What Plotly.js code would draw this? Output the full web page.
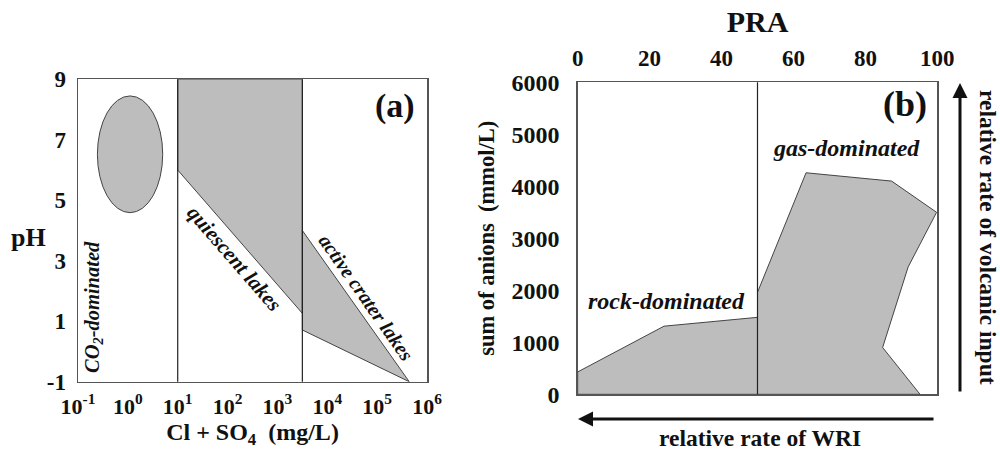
<!DOCTYPE html>
<html>
<head>
<meta charset="utf-8">
<script src="https://cdn.plot.ly/plotly-3.0.1.min.js"></script>
<style>html,body{margin:0;padding:0;background:#fff;}#chart{width:1000px;height:452px;}</style>
</head>
<body>
<div id="chart"></div>
<script>
// ---------- Panel (a) data ----------
const aTickVals = [0.1, 1, 10, 100, 1000, 10000, 100000, 1000000];
const aTickText = ['10<sup>-1</sup>', '10<sup>0</sup>', '10<sup>1</sup>', '10<sup>2</sup>', '10<sup>3</sup>', '10<sup>4</sup>', '10<sup>5</sup>', '10<sup>6</sup>'];
const pHTicks = [-1, 1, 3, 5, 7, 9];
const pHTickText = ['-1', '1', '3', '5', '7', '9'];
const co2EllipseX = [0.245, 5.0];
const co2EllipseY = [4.59, 8.45];
const quiescentX = [10, 3162, 3162, 10, 10];
const quiescentY = [9, 9, 1.26, 6.0, 9];
const activeX = [3162, 440000, 3162, 3162];
const activeY = [4.0, -1, 0.71, 4.0];
const dividersA = [10, 3162];

// ---------- Panel (b) data ----------
const praTicks = [0, 20, 40, 60, 80, 100];
const anionTicks = [0, 1000, 2000, 3000, 4000, 5000, 6000];
const rockX = [0, 0, 24, 50, 50, 0];
const rockY = [0, 430, 1310, 1480, 0, 0];
const gasX = [50, 50, 63.5, 87.3, 99.8, 91.9, 84.8, 95.2, 50];
const gasY = [0, 1960, 4260, 4100, 3500, 2450, 900, 0, 0];
const dividersB = [50];

const FILL = '#bdbdbd';
const EDGE = '#444444';
const AXIS = '#555555';
const FONT = 'Liberation Serif, Times New Roman, serif';

const traces = [
  {x: quiescentX, y: quiescentY, xaxis: 'x', yaxis: 'y', mode: 'lines', fill: 'toself',
   fillcolor: FILL, line: {color: EDGE, width: 1}, hoverinfo: 'skip', showlegend: false},
  {x: activeX, y: activeY, xaxis: 'x', yaxis: 'y', mode: 'lines', fill: 'toself',
   fillcolor: FILL, line: {color: EDGE, width: 1}, hoverinfo: 'skip', showlegend: false},
  {x: rockX, y: rockY, xaxis: 'x2', yaxis: 'y2', mode: 'lines', fill: 'toself',
   fillcolor: FILL, line: {color: EDGE, width: 1}, hoverinfo: 'skip', showlegend: false},
  {x: gasX, y: gasY, xaxis: 'x2', yaxis: 'y2', mode: 'lines', fill: 'toself',
   fillcolor: FILL, line: {color: EDGE, width: 1}, hoverinfo: 'skip', showlegend: false}
];

const shapes = [];
shapes.push({type: 'circle', xref: 'x', yref: 'y', x0: co2EllipseX[0], x1: co2EllipseX[1],
  y0: co2EllipseY[0], y1: co2EllipseY[1], fillcolor: FILL, line: {color: EDGE, width: 1}});
dividersA.forEach(v => shapes.push({type: 'line', xref: 'x', yref: 'y domain', x0: v, x1: v, y0: 0, y1: 1,
  line: {color: '#222', width: 1.2}, layer: 'above'}));
dividersB.forEach(v => shapes.push({type: 'line', xref: 'x2', yref: 'y2 domain', x0: v, x1: v, y0: 0, y1: 1,
  line: {color: '#222', width: 1.2}, layer: 'above'}));

const axisCommon = {showgrid: false, zeroline: false, showline: true, mirror: true,
  linecolor: AXIS, linewidth: 1.5, ticks: '', fixedrange: true};

const bold = (size) => ({family: FONT, size: size, color: '#111', weight: 700});
const boldItal = (size) => ({family: FONT, size: size, color: '#111', weight: 700, style: 'italic'});

function note(px, py, text, font, angle) {
  return {xref: 'paper', yref: 'paper', x: px / 1000, y: 1 - py / 452, text: text, showarrow: false,
    xanchor: 'center', yanchor: 'middle', textangle: angle || 0, font: font};
}

const annotations = [
  note(28, 237, 'pH', bold(26)),
  note(395, 106, '(a)', bold(34)),
  note(905, 104, '(b)', bold(36)),
  note(93, 307, 'CO<sub>2</sub>-dominated', boldItal(20.5), -90),
  note(234, 258, 'quiescent lakes', boldItal(21), 49),
  note(366, 297, 'active crater lakes', boldItal(20), 55),
  note(666, 301, 'rock-dominated', boldItal(24)),
  note(846, 148, 'gas-dominated', boldItal(24)),
  note(760, 438, 'relative rate of WRI', bold(23.5)),
  note(988, 237, 'relative rate of volcanic input', bold(23.5), 90),
  // arrows
  {xref: 'paper', yref: 'paper', x: 0.578, y: 1 - 419/452, ax: 357, ay: 0, text: '', showarrow: true,
   arrowhead: 2, arrowsize: 1, arrowwidth: 3, arrowcolor: '#111'},
  {xref: 'paper', yref: 'paper', x: 0.960, y: 1 - 83/452, ax: 0, ay: 310, text: '', showarrow: true,
   arrowhead: 2, arrowsize: 1, arrowwidth: 3, arrowcolor: '#111'}
];

const layout = {
  width: 1000, height: 452,
  margin: {l: 0, r: 0, t: 0, b: 0},
  paper_bgcolor: '#fff', plot_bgcolor: '#fff',
  font: {family: FONT, color: '#111', weight: 700},
  showlegend: false,
  xaxis: Object.assign({}, axisCommon, {
    domain: [0.078, 0.427], anchor: 'y', type: 'log', range: [-1, 6],
    tickvals: aTickVals, ticktext: aTickText, tickfont: bold(22), ticklabelstandoff: 4,
    title: {text: 'Cl + SO<sub>4</sub>\u00a0 (mg/L)', font: bold(24), standoff: 4}
  }),
  yaxis: Object.assign({}, axisCommon, {
    domain: [1 - 381.7/452, 1 - 79.3/452], anchor: 'x', range: [-1, 9],
    tickvals: pHTicks, ticktext: pHTickText, tickfont: bold(23), ticklabelstandoff: 6
  }),
  xaxis2: Object.assign({}, axisCommon, {
    domain: [0.5777, 0.9373], anchor: 'y2', side: 'top', range: [0, 100],
    tickvals: praTicks, tickfont: bold(23), ticklabelstandoff: 6,
    title: {text: 'PRA', font: bold(30), standoff: 4}
  }),
  yaxis2: Object.assign({}, axisCommon, {
    domain: [1 - 394.3/452, 1 - 82.3/452], anchor: 'x2', range: [0, 6000],
    tickvals: anionTicks, tickfont: bold(24), ticklabelstandoff: 12,
    title: {text: 'sum of anions\u00a0 (mmol/L)', font: bold(22.5), standoff: 10}
  }),
  shapes: shapes,
  annotations: annotations
};

Plotly.newPlot('chart', traces, layout, {displayModeBar: false, staticPlot: true});
</script>
</body>
</html>
